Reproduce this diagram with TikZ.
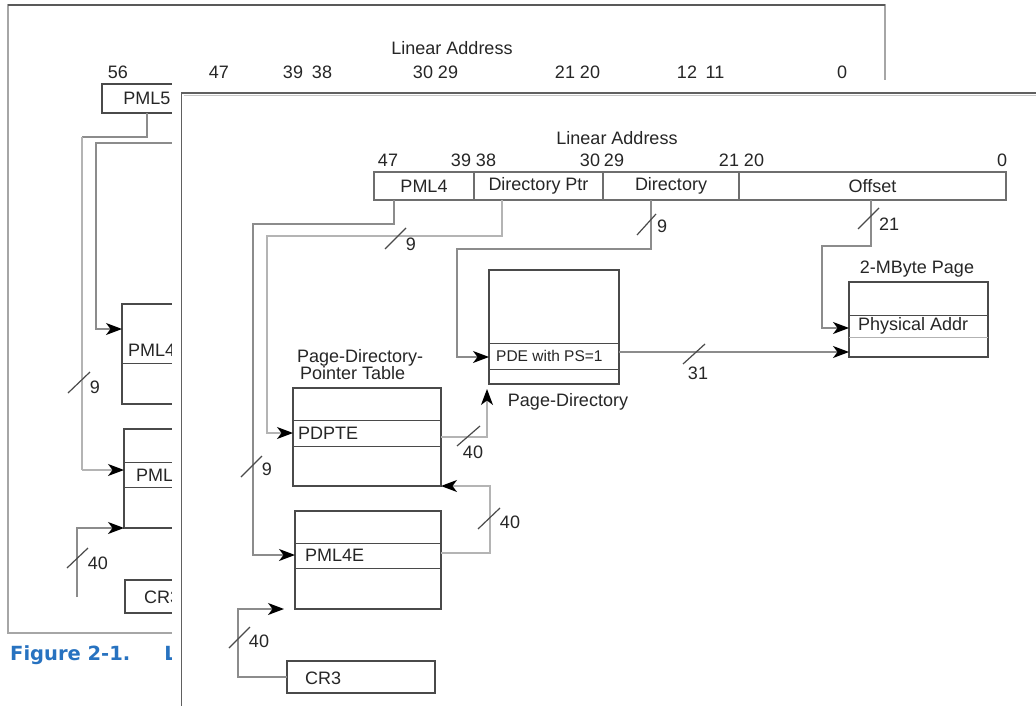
\documentclass[tikz,border=0pt]{standalone}
\usepackage{fontspec}
\setmainfont{Liberation Sans}
\newfontfamily\capfont{DejaVu Sans}
\usetikzlibrary{arrows.meta,calc}
\definecolor{boxc}{HTML}{4A4A4A}
\definecolor{fieldc}{HTML}{6E6E6E}
\definecolor{connc}{HTML}{8C8C8C}
\definecolor{lightc}{HTML}{B4B4B4}
\definecolor{txtc}{HTML}{262626}
\definecolor{capblue}{HTML}{2772C0}
\begin{document}
\begin{tikzpicture}[x=1pt,y=-1pt,
  box/.style={draw=boxc, line width=1.3pt, inner sep=0pt, outer sep=0pt, anchor=north west, fill=white},
  field/.style={draw=fieldc, line width=1.2pt, inner sep=0pt, outer sep=0pt, anchor=north west, minimum height=28pt, font=\fontsize{18}{18}\selectfont, text=txtc},
  conn/.style={draw=connc, line width=1.3pt},
  lconn/.style={draw=lightc, line width=1.3pt},
  arr/.style={-{Stealth[length=16pt,width=12pt,inset=4.5pt,color=black]}},
  lbl/.style={font=\fontsize{18}{18}\selectfont, text=txtc, inner sep=0pt},
  slab/.style={font=\fontsize{18}{18}\selectfont, text=txtc, inner sep=0pt},
  slash/.style={draw=boxc, line width=1.2pt},
  div/.style={draw=boxc, line width=1pt},
]
\useasboundingbox (0,0) rectangle (1036,706);
\fill[white] (0,0) rectangle (1036,706);

% ================= back figure =================
\draw[draw=gray!70, line width=1.2pt] (8,5) rectangle (885,633);
\draw[draw=gray!70!black, line width=1.8pt] (8,5) -- (885,5);
\node[lbl] (bla) at (452,48) {Linear Address};
\foreach \t/\x in {56/118,47/219,39/293,38/322,30/423,29/448,21/565,20/590,12/687,11/715,0/842}
  \node[lbl] (bb\t) at (\x,72) {\t};
\node[box, minimum width=90pt, minimum height=29pt, font=\fontsize{18}{18}\selectfont, text=txtc] (bpml5) at (102,84) {PML5};
\node[box, minimum width=100pt, minimum height=100pt] (bpml4) at (122,304) {};
\draw[div] (bpml4.west |- 0,363) -- (bpml4.east |- 0,363);
\node[lbl, anchor=west] (bpml4t) at (128,350) {PML4};
\node[box, minimum width=100pt, minimum height=99pt] (bpdpt) at (124,429) {};
\draw[div] (bpdpt.west |- 0,462) -- (bpdpt.east |- 0,462);
\draw[div] (bpdpt.west |- 0,487) -- (bpdpt.east |- 0,487);
\node[lbl, anchor=west] (bpdptt) at (136,475) {PML};
\node[box, minimum width=100pt, minimum height=33pt] (bcr3) at (125,580) {};
\node[lbl, anchor=west] (bcr3t) at (144,597) {CR3};
\coordinate (bfree) at (172,143);
\draw[conn] (bpml5.south) -- (bpml5.south |- 0,137) -- (82,137);
\draw[lconn] (82,137) -- (82,470);
\draw[lconn, arr] (82,470) -- (bpdpt.west |- 0,470);
\draw[conn, arr] (bfree) -- (96,143) -- (96,329) -- (bpml4.west |- 0,329);
\coordinate (bcr3c) at (77,597);
\draw[conn, arr] (bcr3c) -- (bpdpt.south west -| bcr3c) -- (bpdpt.south west);
\draw[slash] (68,393) -- (90,372);
\node[slab] (bs9) at (95,387) {9};
\draw[slash] (67,568) -- (88,548);
\node[slab] (bs40) at (98,563) {40};
\node[anchor=west, inner sep=0pt, text=capblue, font=\capfont\bfseries\fontsize{19.5}{20}\selectfont] (cap) at (10,655) {Figure 2-1.\hspace{34pt}L};

% ================= cover + front panel =================
\fill[white] (172,80) rectangle (1036,706);
\draw[draw=gray!45, line width=1.5pt] (183.5,95.5) -- (1036,95.5);
\draw[draw=gray!75!black, line width=1.5pt] (181.5,706) -- (181.5,93) -- (1036,93);

\node[lbl] (la) at (617,138) {Linear Address};
\foreach \t/\x in {47/388,39/461,38/486,30/590,29/614,21/729,20/754,0/1002}
  \node[lbl] (fb\t) at (\x,160) {\t};
\node[field, minimum width=100pt] (fpml4) at (374,172) {PML4};
\node[field, minimum width=129pt] (fdp) at (474,172) {Directory Ptr};
\node[field, minimum width=136pt] (fdir) at (603,172) {Directory};
\node[field, minimum width=267pt] (foff) at (739,172) {Offset};

% boxes
\node[box, minimum width=139pt, minimum height=75pt] (page) at (849,282) {};
\draw[div] (page.west |- 0,315) -- (page.east |- 0,315);
\draw[div, draw=gray!60] (page.west |- 0,337) -- (page.east |- 0,337);
\node[lbl, anchor=west] (phys) at (858,326) {Physical Addr};
\node[lbl] (paget) at (917,269) {2-MByte Page};

\node[box, minimum width=130pt, minimum height=114pt] (pd) at (489,270) {};
\draw[div] (pd.west |- 0,343) -- (pd.east |- 0,343);
\draw[div] (pd.west |- 0,369) -- (pd.east |- 0,369);
\node[anchor=west, inner sep=0pt, text=txtc, font=\fontsize{15.5}{16}\selectfont] (pde) at (496,356) {PDE with PS=1};
\node[lbl] (pdt) at (568,402) {Page-Directory};

\node[box, minimum width=148pt, minimum height=98pt] (pdpt) at (293,388) {};
\draw[div] (pdpt.west |- 0,420) -- (pdpt.east |- 0,420);
\draw[div] (pdpt.west |- 0,446) -- (pdpt.east |- 0,446);
\node[lbl, anchor=west] (pdpte) at (298,433) {PDPTE};
\node[lbl, anchor=west, align=left] (pdptt) at (297,365) {Page-Directory-\\[-1pt]\hspace{3pt}Pointer Table};

\node[box, minimum width=146pt, minimum height=98pt] (pml4t) at (295,511) {};
\draw[div] (pml4t.west |- 0,543) -- (pml4t.east |- 0,543);
\draw[div] (pml4t.west |- 0,568) -- (pml4t.east |- 0,568);
\node[lbl, anchor=west] (pml4e) at (305,555) {PML4E};

\node[box, minimum width=148pt, minimum height=32pt] (cr3) at (287,661) {};
\node[lbl, anchor=west] (cr3t) at (305,678) {CR3};

% connectors
\draw[conn, arr] (fpml4.south west -| 394,0) -- (394,224) -- (253,224) -- (253,555) -- (pml4t.west |- 0,555);
\draw[lconn, arr] (fdp.south west -| 502,0) -- (502,236) -- (267,236) -- (267,433) -- (pdpt.west |- 0,433);
\draw[conn, arr] (fdir.south west -| 651,0) -- (651,249) -- (457,249) -- (457,357) -- (pd.west |- 0,357);
\draw[conn, arr] (foff.south west -| 871,0) -- (871,246) -- (822,246) -- (822,328) -- (page.west |- 0,328);
\draw[conn, arr] (pd.east |- 0,352) -- (page.west |- 0,352);
\draw[lconn, arr] (pdpt.east |- 0,437) -- (487,437) -- ($(pd.south west)+(-2,5)$);
\draw[lconn, arr] (pml4t.east |- 0,553) -- (490,553) -- (490,486) -- (pdpt.south east);
\draw[conn, arr] (cr3.west) -- (cr3.west -| 238,0) -- (238,609) -- ($(pml4t.south west)+(-11,0)$);

% slashes and widths
\draw[slash] (385,249) -- (406,228);
\node[slab] (s9a) at (411,244) {9};
\draw[slash] (241,477) -- (262,456);
\node[slab] (s9b) at (267,469) {9};
\draw[slash] (637,235) -- (656,214);
\node[slab] (s9c) at (662,226) {9};
\draw[slash] (858,229) -- (879,208);
\node[slab] (s21) at (889,224) {21};
\draw[slash] (683,364) -- (705,344);
\node[slab] (s31) at (698,373) {31};
\draw[slash] (457,446) -- (480,426);
\node[slab] (s40a) at (473,452) {40};
\draw[slash] (478,529) -- (500,508);
\node[slab] (s40b) at (510,522) {40};
\draw[slash] (229,648) -- (250,627);
\node[slab] (s40c) at (259,641) {40};
\end{tikzpicture}
\end{document}
